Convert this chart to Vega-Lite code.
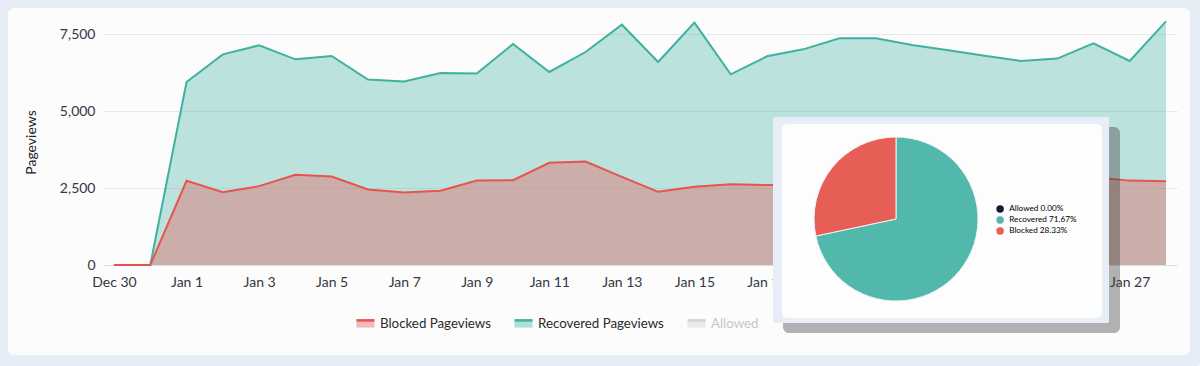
{
  "$schema": "https://vega.github.io/schema/vega-lite/v6.json",
  "width": 1074,
  "height": 246,
  "autosize": {"type": "none"},
  "padding": {"left": 103, "top": 19, "right": 23, "bottom": 101},
  "background": "#fcfcfd",
  "config": {
    "font": "Lato",
    "view": {"stroke": null},
    "axis": {"labelFont": "Lato", "titleFont": "Lato"},
    "legend": {"labelFont": "Lato", "titleFont": "Lato"}
  },
  "datasets": {
    "traffic": [
      {"date": "2024-12-30", "series": "Recovered Pageviews", "value": 0},
      {"date": "2024-12-31", "series": "Recovered Pageviews", "value": 0},
      {"date": "2025-01-01", "series": "Recovered Pageviews", "value": 5952},
      {"date": "2025-01-02", "series": "Recovered Pageviews", "value": 6851},
      {"date": "2025-01-03", "series": "Recovered Pageviews", "value": 7143},
      {"date": "2025-01-04", "series": "Recovered Pageviews", "value": 6689},
      {"date": "2025-01-05", "series": "Recovered Pageviews", "value": 6797},
      {"date": "2025-01-06", "series": "Recovered Pageviews", "value": 6030},
      {"date": "2025-01-07", "series": "Recovered Pageviews", "value": 5965},
      {"date": "2025-01-08", "series": "Recovered Pageviews", "value": 6244},
      {"date": "2025-01-09", "series": "Recovered Pageviews", "value": 6225},
      {"date": "2025-01-10", "series": "Recovered Pageviews", "value": 7186},
      {"date": "2025-01-11", "series": "Recovered Pageviews", "value": 6277},
      {"date": "2025-01-12", "series": "Recovered Pageviews", "value": 6926},
      {"date": "2025-01-13", "series": "Recovered Pageviews", "value": 7815},
      {"date": "2025-01-14", "series": "Recovered Pageviews", "value": 6601},
      {"date": "2025-01-15", "series": "Recovered Pageviews", "value": 7880},
      {"date": "2025-01-16", "series": "Recovered Pageviews", "value": 6202},
      {"date": "2025-01-17", "series": "Recovered Pageviews", "value": 6786},
      {"date": "2025-01-18", "series": "Recovered Pageviews", "value": 7013},
      {"date": "2025-01-19", "series": "Recovered Pageviews", "value": 7371},
      {"date": "2025-01-20", "series": "Recovered Pageviews", "value": 7371},
      {"date": "2025-01-21", "series": "Recovered Pageviews", "value": 7153},
      {"date": "2025-01-22", "series": "Recovered Pageviews", "value": 6981},
      {"date": "2025-01-23", "series": "Recovered Pageviews", "value": 6802},
      {"date": "2025-01-24", "series": "Recovered Pageviews", "value": 6634},
      {"date": "2025-01-25", "series": "Recovered Pageviews", "value": 6712},
      {"date": "2025-01-26", "series": "Recovered Pageviews", "value": 7208},
      {"date": "2025-01-27", "series": "Recovered Pageviews", "value": 6634},
      {"date": "2025-01-28", "series": "Recovered Pageviews", "value": 7923},
      {"date": "2024-12-30", "series": "Blocked Pageviews", "value": 0},
      {"date": "2024-12-31", "series": "Blocked Pageviews", "value": 0},
      {"date": "2025-01-01", "series": "Blocked Pageviews", "value": 2737},
      {"date": "2025-01-02", "series": "Blocked Pageviews", "value": 2370},
      {"date": "2025-01-03", "series": "Blocked Pageviews", "value": 2565},
      {"date": "2025-01-04", "series": "Blocked Pageviews", "value": 2932},
      {"date": "2025-01-05", "series": "Blocked Pageviews", "value": 2880},
      {"date": "2025-01-06", "series": "Blocked Pageviews", "value": 2458},
      {"date": "2025-01-07", "series": "Blocked Pageviews", "value": 2361},
      {"date": "2025-01-08", "series": "Blocked Pageviews", "value": 2412},
      {"date": "2025-01-09", "series": "Blocked Pageviews", "value": 2750},
      {"date": "2025-01-10", "series": "Blocked Pageviews", "value": 2760},
      {"date": "2025-01-11", "series": "Blocked Pageviews", "value": 3322},
      {"date": "2025-01-12", "series": "Blocked Pageviews", "value": 3367},
      {"date": "2025-01-13", "series": "Blocked Pageviews", "value": 2867},
      {"date": "2025-01-14", "series": "Blocked Pageviews", "value": 2380},
      {"date": "2025-01-15", "series": "Blocked Pageviews", "value": 2542},
      {"date": "2025-01-16", "series": "Blocked Pageviews", "value": 2630},
      {"date": "2025-01-17", "series": "Blocked Pageviews", "value": 2598},
      {"date": "2025-01-18", "series": "Blocked Pageviews", "value": 2620},
      {"date": "2025-01-19", "series": "Blocked Pageviews", "value": 2700},
      {"date": "2025-01-20", "series": "Blocked Pageviews", "value": 2650},
      {"date": "2025-01-21", "series": "Blocked Pageviews", "value": 2750},
      {"date": "2025-01-22", "series": "Blocked Pageviews", "value": 2600},
      {"date": "2025-01-23", "series": "Blocked Pageviews", "value": 2680},
      {"date": "2025-01-24", "series": "Blocked Pageviews", "value": 2700},
      {"date": "2025-01-25", "series": "Blocked Pageviews", "value": 2680},
      {"date": "2025-01-26", "series": "Blocked Pageviews", "value": 2857},
      {"date": "2025-01-27", "series": "Blocked Pageviews", "value": 2744},
      {"date": "2025-01-28", "series": "Blocked Pageviews", "value": 2727}
    ],
    "share": [
      {"slice": "Allowed 0.00%", "pct": 0, "ord": 0},
      {"slice": "Recovered 71.67%", "pct": 71.67, "ord": 1},
      {"slice": "Blocked 28.33%", "pct": 28.33, "ord": 2}
    ],
    "one": [{}]
  },
  "layer": [
    {
      "data": {"name": "traffic"},
      "transform": [{"filter": "datum.series === 'Recovered Pageviews'"}],
      "mark": {"type": "area", "fillOpacity": 0.345},
      "encoding": {
        "x": {
          "field": "date", "type": "temporal",
          "scale": {"type": "utc", "domain": [
            {"year": 2024, "month": 12, "date": 29, "hours": 16, "minutes": 43, "seconds": 23, "utc": true},
            {"year": 2025, "month": 1, "date": 28, "hours": 7, "minutes": 16, "seconds": 37, "utc": true}
          ]},
          "axis": {
            "title": null,
            "values": [
              {"year": 2024, "month": 12, "date": 30, "utc": true},
              {"year": 2025, "month": 1, "date": 1, "utc": true},
              {"year": 2025, "month": 1, "date": 3, "utc": true},
              {"year": 2025, "month": 1, "date": 5, "utc": true},
              {"year": 2025, "month": 1, "date": 7, "utc": true},
              {"year": 2025, "month": 1, "date": 9, "utc": true},
              {"year": 2025, "month": 1, "date": 11, "utc": true},
              {"year": 2025, "month": 1, "date": 13, "utc": true},
              {"year": 2025, "month": 1, "date": 15, "utc": true},
              {"year": 2025, "month": 1, "date": 17, "utc": true},
              {"year": 2025, "month": 1, "date": 19, "utc": true},
              {"year": 2025, "month": 1, "date": 21, "utc": true},
              {"year": 2025, "month": 1, "date": 23, "utc": true},
              {"year": 2025, "month": 1, "date": 25, "utc": true},
              {"year": 2025, "month": 1, "date": 27, "utc": true}
            ],
            "format": "%b %-d",
            "labelFontSize": 14,
            "labelColor": "#34373f",
            "labelFlush": false,
            "labelOverlap": false,
            "grid": false,
            "ticks": false,
            "tickSize": 0,
            "domain": true,
            "domainColor": "#dde1e8",
            "labelPadding": 10
          }
        },
        "y": {
          "field": "value", "type": "quantitative", "stack": null,
          "scale": {"domain": [0, 8000], "nice": false},
          "axis": {
            "title": "Pageviews",
            "values": [0, 2500, 5000, 7500],
            "format": ",.0f",
            "labelFontSize": 14,
            "labelColor": "#34373f",
            "grid": true,
            "gridColor": "#e8e8ec",
            "ticks": false,
            "tickSize": 0,
            "domain": false,
            "labelPadding": 8,
            "titleFontSize": 14,
            "titleFontWeight": "normal",
            "titleColor": "#222222",
            "titlePadding": 21
          }
        },
        "color": {
          "field": "series", "type": "nominal",
          "scale": {
            "domain": ["Blocked Pageviews", "Recovered Pageviews", "Allowed Pageviews"],
            "range": ["#e9534d", "#3fb19f", "#d2d2d2"]
          },
          "legend": {
            "orient": "none",
            "legendX": 252,
            "legendY": 294,
            "direction": "horizontal",
            "title": null,
            "symbolType": "M-1,-0.4L1,-0.4L1,0.4L-1,0.4Z",
            "symbolSize": 324,
            "labelFontSize": 13.3,
            "labelColor": "#2b2b2b",
            "labelOffset": 4,
            "columnPadding": 18,
            "padding": 0,
            "encode": {
              "symbols": {"update": {
                "fill": {"signal": "scale('color', datum.value)"},
                "fillOpacity": {"value": 0.4},
                "stroke": {"signal": "scale('color', datum.value)"},
                "strokeWidth": {"value": 2.5},
                "strokeDash": {"value": [18, 100]},
                "opacity": {"value": 1}
              }},
              "labels": {"update": {
                "fill": {"signal": "datum.value === 'Allowed Pageviews' ? '#c6c6c6' : '#2b2b2b'"},
                "limit": {"signal": "datum.value === 'Allowed Pageviews' ? 58 : 300"},
                "ellipsis": {"value": "\u200b"}
              }}
            }
          }
        }
      }
    },
    {
      "data": {"name": "traffic"},
      "transform": [{"filter": "datum.series === 'Blocked Pageviews'"}],
      "mark": {"type": "area", "fillOpacity": 0.36},
      "encoding": {
        "x": {"field": "date", "type": "temporal"},
        "y": {"field": "value", "type": "quantitative", "stack": null},
        "color": {"field": "series", "type": "nominal"}
      }
    },
    {
      "data": {"name": "traffic"},
      "mark": {"type": "line", "strokeWidth": 2},
      "encoding": {
        "x": {"field": "date", "type": "temporal"},
        "y": {"field": "value", "type": "quantitative", "stack": null},
        "color": {"field": "series", "type": "nominal"}
      }
    },
    {
      "data": {"name": "one"},
      "mark": {"type": "rect", "fill": "#404040", "opacity": 0.4, "cornerRadius": 6},
      "encoding": {
        "x": {"datum": {"year": 2025, "month": 1, "date": 17, "hours": 10, "minutes": 37, "utc": true}, "type": "temporal"},
        "x2": {"datum": {"year": 2025, "month": 1, "date": 26, "hours": 17, "minutes": 34, "utc": true}},
        "y": {"datum": 4488, "type": "quantitative"},
        "y2": {"datum": -2211}
      }
    },
    {
      "data": {"name": "one"},
      "mark": {"type": "rect", "fill": "#e8eef7", "cornerRadius": 2},
      "encoding": {
        "x": {"datum": {"year": 2025, "month": 1, "date": 17, "hours": 3, "minutes": 59, "utc": true}, "type": "temporal"},
        "x2": {"datum": {"year": 2025, "month": 1, "date": 26, "hours": 10, "minutes": 18, "utc": true}},
        "y": {"datum": 4813, "type": "quantitative"},
        "y2": {"datum": -1886}
      }
    },
    {
      "data": {"name": "one"},
      "mark": {"type": "rect", "fill": "#fdfdfe", "cornerRadius": 5},
      "encoding": {
        "x": {"datum": {"year": 2025, "month": 1, "date": 17, "hours": 9, "minutes": 56, "utc": true}, "type": "temporal"},
        "x2": {"datum": {"year": 2025, "month": 1, "date": 26, "hours": 5, "minutes": 38, "utc": true}},
        "y": {"datum": 4585, "type": "quantitative"},
        "y2": {"datum": -1724}
      }
    },
    {
      "data": {"name": "share"},
      "mark": {"type": "arc", "radius": 82, "stroke": "#f3f3f3", "strokeWidth": 1},
      "encoding": {
        "theta": {"field": "pct", "type": "quantitative"},
        "order": {"field": "ord", "type": "quantitative"},
        "x": {"datum": {"year": 2025, "month": 1, "date": 20, "hours": 13, "minutes": 22, "utc": true}, "type": "temporal"},
        "y": {"datum": 1496, "type": "quantitative"},
        "fill": {
          "field": "slice", "type": "nominal",
          "scale": {
            "domain": ["Allowed 0.00%", "Recovered 71.67%", "Blocked 28.33%"],
            "range": ["#141a33", "#53b8ac", "#e65e56"]
          },
          "legend": {
            "orient": "none",
            "legendX": 893,
            "legendY": 186,
            "direction": "vertical",
            "title": null,
            "symbolType": "circle",
            "symbolSize": 56,
            "symbolStrokeWidth": 0,
            "labelFontSize": 8.2,
            "labelOffset": 5,
            "rowPadding": 2,
            "padding": 0,
            "encode": {
              "labels": {"update": {
                "fill": {"signal": "datum.value === 'Allowed 0.00%' ? '#9a9aa2' : '#2a2e3d'"}
              }}
            }
          }
        }
      }
    },
    {
      "data": {"name": "one"},
      "mark": {"type": "rect", "filled": false, "stroke": "#e6edf6", "strokeWidth": 16, "cornerRadius": 14},
      "encoding": {
        "x": {"datum": {"year": 2024, "month": 12, "date": 26, "hours": 20, "minutes": 35, "utc": true}, "type": "temporal"},
        "x2": {"datum": {"year": 2025, "month": 1, "date": 28, "hours": 21, "minutes": 10, "utc": true}},
        "y": {"datum": 8618, "type": "quantitative"},
        "y2": {"datum": -3187}
      }
    }
  ]
}
